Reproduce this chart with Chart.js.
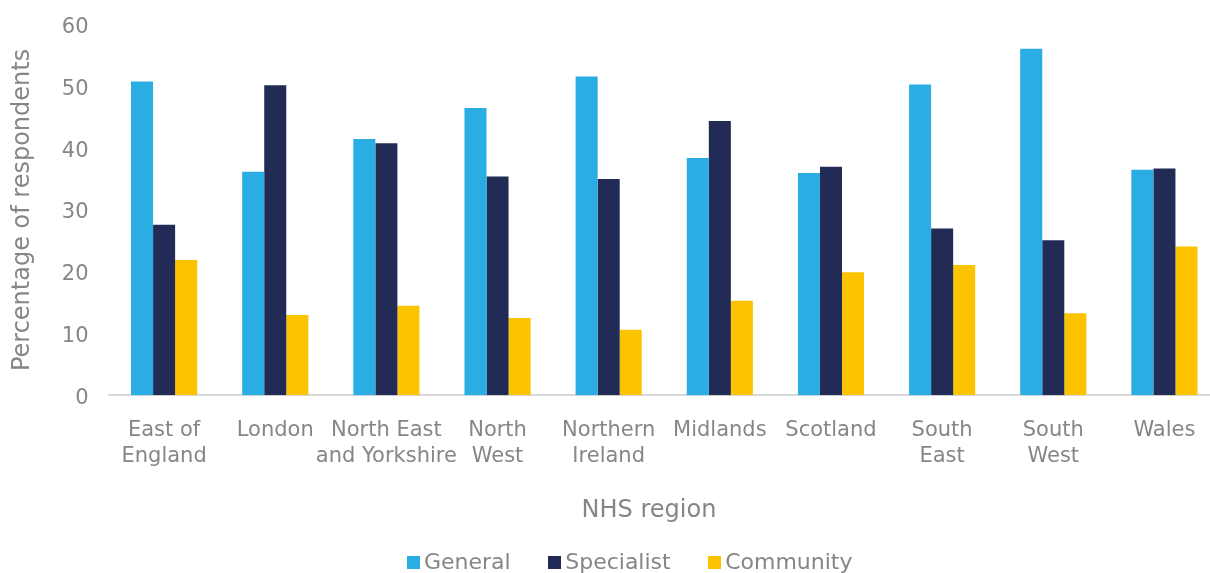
<!DOCTYPE html>
<html lang="en">
<head>
  <meta charset="UTF-8" />
  <title>Respondents by NHS region</title>
  <script src="https://cdn.jsdelivr.net/npm/chart.js"></script>
  <style>
    html, body { margin: 0; padding: 0; background: #fff; overflow: hidden; }
    .grafica { position: relative; width: 1222px; height: 583px; }
    .leyenda {
      position: absolute; left: 407px; top: 549px;
      display: flex; gap: 37.5px;
      font: 22px 'DejaVu Sans'; line-height: 26px; color: #868686;
    }
    .leyenda span { display: flex; align-items: center; white-space: nowrap; }
    .leyenda i { display: inline-block; width: 13px; height: 13px; margin-right: 4px; }
  </style>
</head>
<body>
  <section class="grafica">
    <canvas id="graficoRegiones"></canvas>
    <div class="leyenda" id="leyenda"></div>
  </section>

  <script>
    const regiones = [
      ['East of', 'England'], 'London', ['North East', 'and Yorkshire'], ['North', 'West'],
      ['Northern', 'Ireland'], 'Midlands', 'Scotland', ['South', 'East'], ['South', 'West'], 'Wales'
    ];
    const general    = [50.8, 36.2, 41.5, 46.5, 51.6, 38.4, 36.0, 50.3, 56.1, 36.5];
    const specialist = [27.6, 50.2, 40.8, 35.4, 35.0, 44.4, 37.0, 27.0, 25.1, 36.7];
    const community  = [21.9, 13.0, 14.5, 12.5, 10.6, 15.3, 19.9, 21.1, 13.3, 24.1];
    const ticksY = [0, 10, 20, 30, 40, 50, 60];

    const gris = '#868686';
    const fuente = 'DejaVu Sans';

    const ctx = document.getElementById('graficoRegiones').getContext('2d');
    const grafico = new Chart(ctx, {
      type: 'bar',
      data: {
        labels: regiones,
        datasets: [
          { label: 'General', data: general, backgroundColor: '#29ade3' },
          { label: 'Specialist', data: specialist, backgroundColor: '#212b55' },
          { label: 'Community', data: community, backgroundColor: '#fbc300' }
        ]
      },
      options: {
        responsive: true,
        maintainAspectRatio: false,
        animation: false,
        datasets: {
          bar: { categoryPercentage: 0.595, barPercentage: 1.0 }
        },
        // espacio inferior reservado para la leyenda HTML
        layout: { padding: { left: 8, right: 2, top: 15, bottom: 57.5 } },
        plugins: {
          tooltip: { enabled: false },
          legend: { display: false }
        },
        scales: {
          x: {
            grid: { display: false },
            border: { color: '#d9d9d9', width: 2 },
            ticks: {
              color: gris,
              font: { family: fuente, size: 21 },
              maxRotation: 0,
              autoSkip: false,
              padding: 15
            },
            title: {
              display: true,
              text: 'NHS region    ',
              color: gris,
              font: { family: fuente, size: 24 },
              padding: { top: 13, bottom: 0 }
            }
          },
          y: {
            min: 0,
            max: 60,
            afterBuildTicks: (eje) => { eje.ticks = ticksY.map(v => ({ value: v })); },
            grid: { display: false },
            border: { display: false },
            ticks: {
              color: gris,
              font: { family: fuente, size: 21 },
              padding: 12,
              labelOffset: 3
            },
            title: {
              display: true,
              text: 'Percentage of respondents',
              color: gris,
              font: { family: fuente, size: 24 },
              padding: { top: 0, bottom: 13 }
            }
          }
        }
      }
    });

    // leyenda a partir de las series del gráfico
    const leyenda = document.getElementById('leyenda');
    grafico.data.datasets.forEach(ds => {
      const item = document.createElement('span');
      const caja = document.createElement('i');
      caja.style.background = ds.backgroundColor;
      item.appendChild(caja);
      item.appendChild(document.createTextNode(ds.label));
      leyenda.appendChild(item);
    });
  </script>
</body>
</html>
